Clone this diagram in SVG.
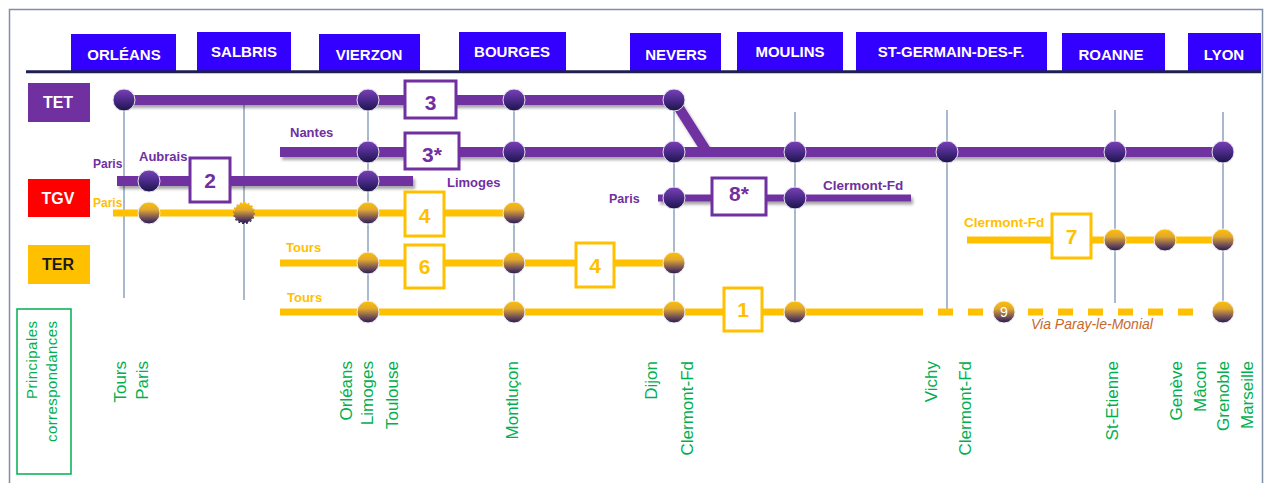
<svg xmlns="http://www.w3.org/2000/svg" width="1264" height="483" viewBox="0 0 1264 483">
<style>
.tab{fill:#3300ff}
.tabt{font-family:"Liberation Sans",Arial,sans-serif;font-weight:bold;font-size:15px;fill:#ffffff;text-anchor:middle}
.cat{font-family:"Liberation Sans",Arial,sans-serif;font-weight:bold;font-size:16px;text-anchor:middle}
.vl{stroke:#8da0bd;stroke-width:1.5;fill:none}
.pl{stroke:#7030a0;stroke-width:10;fill:none;stroke-linejoin:round}
.yl{stroke:#ffc000;stroke-width:7;fill:none}
.np{fill:url(#gP);stroke:#e4e2ee;stroke-width:1}
.ny{fill:url(#gG);stroke:#f2f0f0;stroke-width:1}
.bp{fill:#ffffff;stroke:#7030a0;stroke-width:3}
.by{fill:#ffffff;stroke:#ffc000;stroke-width:3}
.bt{font-family:"Liberation Sans",Arial,sans-serif;font-weight:bold;font-size:21px;text-anchor:middle}
.lp{font-family:"Liberation Sans",Arial,sans-serif;font-weight:bold;font-size:13px;fill:#7030a0}
.ly{font-family:"Liberation Sans",Arial,sans-serif;font-weight:bold;font-size:13px;fill:#ffc000}
.gl{font-family:"Liberation Sans",Arial,sans-serif;font-size:17px;fill:#00b050;text-anchor:end}
</style>
<defs>
<linearGradient id="gP" x1="0" y1="0" x2="0" y2="1">
<stop offset="0" stop-color="#7b40b8"/>
<stop offset="0.5" stop-color="#4a2a88"/>
<stop offset="1" stop-color="#1c1448"/>
</linearGradient>
<linearGradient id="gG" x1="0" y1="0" x2="0" y2="1">
<stop offset="0" stop-color="#ffc000"/>
<stop offset="0.35" stop-color="#e2a830"/>
<stop offset="0.75" stop-color="#6a4a58"/>
<stop offset="1" stop-color="#241a50"/>
</linearGradient>
<filter id="sh" x="-5%" y="-50%" width="110%" height="250%">
<feDropShadow dx="2" dy="3" stdDeviation="1.5" flood-color="#000000" flood-opacity="0.35"/>
</filter>
</defs>

<rect x="9.5" y="9.5" width="1253" height="490" fill="#ffffff" stroke="#7f8fa6" stroke-width="1.5"/>

<g id="header">
<g id="tab-orleans"><rect class="tab" x="71" y="34" width="105" height="37"/><text class="tabt" x="124" y="60">ORLÉANS</text></g>
<g id="tab-salbris"><rect class="tab" x="197" y="32" width="94" height="39"/><text class="tabt" x="244" y="57">SALBRIS</text></g>
<g id="tab-vierzon"><rect class="tab" x="319" y="34" width="101" height="37"/><text class="tabt" x="369" y="60">VIERZON</text></g>
<g id="tab-bourges"><rect class="tab" x="459" y="32" width="107" height="39"/><text class="tabt" x="512" y="57">BOURGES</text></g>
<g id="tab-nevers"><rect class="tab" x="630" y="33" width="91" height="38"/><text class="tabt" x="676" y="60">NEVERS</text></g>
<g id="tab-moulins"><rect class="tab" x="737" y="32" width="106" height="39"/><text class="tabt" x="790" y="57">MOULINS</text></g>
<g id="tab-stgermain"><rect class="tab" x="856" y="32" width="191" height="39"/><text class="tabt" x="951" y="57">ST-GERMAIN-DES-F.</text></g>
<g id="tab-roanne"><rect class="tab" x="1062" y="33" width="103" height="38"/><text class="tabt" x="1111" y="60">ROANNE</text></g>
<g id="tab-lyon"><rect class="tab" x="1188" y="33" width="73" height="38"/><text class="tabt" x="1224" y="60">LYON</text></g>
<line x1="26" y1="71.7" x2="1261" y2="71.7" stroke="#1f2050" stroke-width="3"/>
</g>

<g id="cat-tet"><rect x="28" y="83" width="62" height="39" fill="#7030a0"/><text class="cat" x="58" y="108" fill="#ffffff">TET</text></g>
<g id="cat-tgv"><rect x="28" y="179" width="62" height="38" fill="#ff0000"/><text class="cat" x="58" y="204" fill="#ffffff">TGV</text></g>
<g id="cat-ter"><rect x="28" y="245" width="62" height="39" fill="#ffc000"/><text class="cat" x="58" y="270" fill="#1a1a1a">TER</text></g>

<g id="connectors">
<g id="station-lines">
<line class="vl" x1="124" y1="100" x2="124" y2="298"/>
<line class="vl" x1="244" y1="100" x2="244" y2="300"/>
<line class="vl" x1="368" y1="100" x2="368" y2="312"/>
<line class="vl" x1="514" y1="100" x2="514" y2="312"/>
<line class="vl" x1="674" y1="100" x2="674" y2="312"/>
<line class="vl" x1="795" y1="112" x2="795" y2="312"/>
<line class="vl" x1="947" y1="110" x2="947" y2="310"/>
<line class="vl" x1="1115" y1="110" x2="1115" y2="303"/>
<line class="vl" x1="1223" y1="112" x2="1223" y2="312"/>
</g>
<g id="purple-lines" filter="url(#sh)">
<path class="pl" d="M124,100 H674 L707,152"/>
<path class="pl" d="M280,152 H1223"/>
<path class="pl" d="M117,181 H413"/>
<path class="pl" d="M658,198 H911" style="stroke-width:7"/>
</g>
<g id="yellow-lines">
<path class="yl" d="M113,213 H514"/>
<path class="yl" d="M280,263 H674"/>
<path class="yl" d="M280,312 H923"/>
<path class="yl" d="M938,312 H1198" stroke-dasharray="15 15"/>
<path class="yl" d="M967,240 H1223"/>
</g>
</g>

<g id="nodes-tet">
<circle class="np" cx="124" cy="100" r="11"/>
<circle class="np" cx="368" cy="100" r="11"/>
<circle class="np" cx="514" cy="100" r="11"/>
<circle class="np" cx="674" cy="100" r="11"/>
<circle class="np" cx="368" cy="152" r="11"/>
<circle class="np" cx="514" cy="152" r="11"/>
<circle class="np" cx="674" cy="152" r="11"/>
<circle class="np" cx="795" cy="152" r="11"/>
<circle class="np" cx="947" cy="152" r="11"/>
<circle class="np" cx="1115" cy="152" r="11"/>
<circle class="np" cx="1223" cy="152" r="11"/>
<circle class="np" cx="149" cy="181" r="11"/>
<circle class="np" cx="368" cy="181" r="11"/>
<circle class="np" cx="674" cy="198" r="11"/>
<circle class="np" cx="795" cy="198" r="11"/>
</g>
<g id="nodes-ter">
<circle class="ny" cx="149" cy="213" r="11"/>
<g id="node-salbris"><circle cx="244" cy="213" r="10" fill="url(#gG)"/><circle cx="244" cy="213" r="10.3" fill="none" stroke="url(#gG)" stroke-width="1.6" stroke-dasharray="2 2"/></g>
<circle class="ny" cx="368" cy="213" r="11"/>
<circle class="ny" cx="514" cy="213" r="11"/>
<circle class="ny" cx="368" cy="263" r="11"/>
<circle class="ny" cx="514" cy="263" r="11"/>
<circle class="ny" cx="674" cy="263" r="11"/>
<circle class="ny" cx="368" cy="312" r="11"/>
<circle class="ny" cx="514" cy="312" r="11"/>
<circle class="ny" cx="674" cy="312" r="11"/>
<circle class="ny" cx="795" cy="312" r="11"/>
<circle class="ny" cx="1223" cy="312" r="11"/>
<circle class="ny" cx="1115" cy="240" r="11"/>
<circle class="ny" cx="1165" cy="240" r="11"/>
<circle class="ny" cx="1223" cy="240" r="11"/>
<g id="node-9"><circle class="ny" cx="1004" cy="312" r="11"/><text x="1004" y="317" font-family="Liberation Sans, Arial, sans-serif" font-size="14" fill="#ffffff" text-anchor="middle">9</text></g>
</g>

<g id="box-3"><rect class="bp" x="405" y="81" width="51" height="37"/><text class="bt" x="430.5" y="110" fill="#7030a0">3</text></g>
<g id="box-3s"><rect class="bp" x="405" y="133" width="54" height="36"/><text class="bt" x="432" y="162" fill="#7030a0">3*</text></g>
<g id="box-2"><rect class="bp" x="190" y="158" width="40" height="44"/><text class="bt" x="210" y="188" fill="#7030a0">2</text></g>
<g id="box-8s"><rect class="bp" x="712" y="178" width="54" height="37"/><text class="bt" x="739" y="201" fill="#7030a0">8*</text></g>
<g id="box-4a"><rect class="by" x="405" y="192" width="39" height="44"/><text class="bt" x="424.5" y="223" fill="#ffc000">4</text></g>
<g id="box-6"><rect class="by" x="405" y="245" width="39" height="43"/><text class="bt" x="424.5" y="274" fill="#ffc000">6</text></g>
<g id="box-4b"><rect class="by" x="576" y="243" width="38" height="44"/><text class="bt" x="595" y="273" fill="#ffc000">4</text></g>
<g id="box-1"><rect class="by" x="724" y="288" width="38" height="43"/><text class="bt" x="743" y="317" fill="#ffc000">1</text></g>
<g id="box-7"><rect class="by" x="1052" y="214" width="39" height="44"/><text class="bt" x="1071.5" y="244" fill="#ffc000">7</text></g>

<g id="line-labels">
<text class="lp" x="290" y="137">Nantes</text>
<text class="lp" x="93" y="168" style="font-size:12px">Paris</text>
<text class="lp" x="139" y="161">Aubrais</text>
<text class="ly" x="93" y="207" style="font-size:12px">Paris</text>
<text class="lp" x="447" y="187">Limoges</text>
<text class="ly" x="286" y="252">Tours</text>
<text class="ly" x="287" y="302">Tours</text>
<text class="lp" x="609" y="203" style="font-size:12.5px">Paris</text>
<text class="lp" x="823" y="190" style="font-size:13.5px">Clermont-Fd</text>
<text class="ly" x="964" y="227" style="font-size:13.5px">Clermont-Fd</text>
<text x="1031" y="329" font-family="Liberation Sans, Arial, sans-serif" font-style="italic" font-size="14" fill="#c8682a">Via Paray-le-Monial</text>
</g>

<g id="correspondances">
<rect x="17" y="309" width="54" height="165" fill="none" stroke="#00b050" stroke-width="1.5"/>
<text class="gl" transform="translate(37,321) rotate(-90)" style="font-size:15px" textLength="78" lengthAdjust="spacing">Principales</text>
<text class="gl" transform="translate(57,321) rotate(-90)" style="font-size:15px" textLength="121" lengthAdjust="spacing">correspondances</text>
<text class="gl" transform="translate(126,361) rotate(-90)">Tours</text>
<text class="gl" transform="translate(148,361) rotate(-90)">Paris</text>
<text class="gl" transform="translate(352,361) rotate(-90)">Orléans</text>
<text class="gl" transform="translate(373,361) rotate(-90)">Limoges</text>
<text class="gl" transform="translate(398,361) rotate(-90)">Toulouse</text>
<text class="gl" transform="translate(518,361) rotate(-90)">Montluçon</text>
<text class="gl" transform="translate(657,361) rotate(-90)">Dijon</text>
<text class="gl" transform="translate(693,361) rotate(-90)">Clermont-Fd</text>
<text class="gl" transform="translate(937,361) rotate(-90)">Vichy</text>
<text class="gl" transform="translate(971,361) rotate(-90)">Clermont-Fd</text>
<text class="gl" transform="translate(1118,361) rotate(-90)">St-Etienne</text>
<text class="gl" transform="translate(1182,361) rotate(-90)">Genève</text>
<text class="gl" transform="translate(1206,361) rotate(-90)">Mâcon</text>
<text class="gl" transform="translate(1229,361) rotate(-90)">Grenoble</text>
<text class="gl" transform="translate(1253,361) rotate(-90)">Marseille</text>
</g>
</svg>
